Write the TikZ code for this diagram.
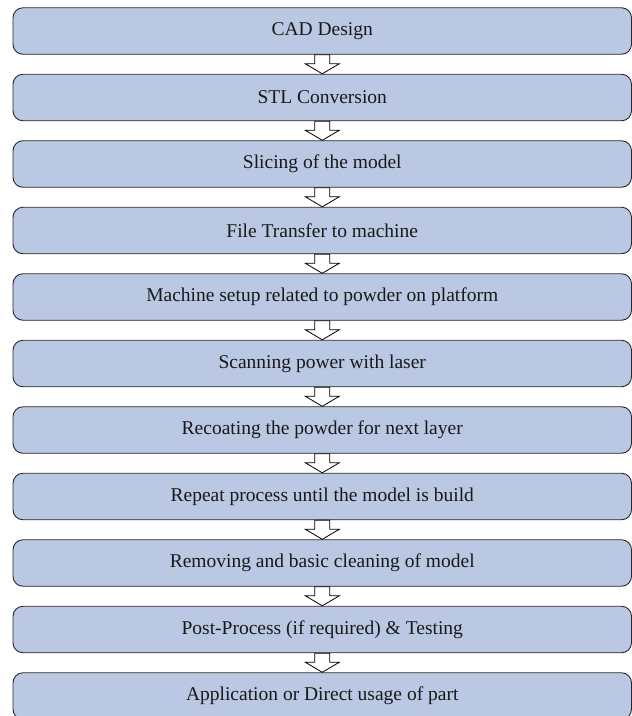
\documentclass[tikz,border=0pt]{standalone}
\usepackage{fontspec}
\setmainfont{Liberation Serif}
\definecolor{stepfill}{RGB}{186,200,228}
\definecolor{stepline}{RGB}{40,40,40}
\newcommand{\flowarrow}[2]{%
  \draw[flowarrow] ([xshift=-7.5pt]#1.south) -- ++(0,9) -- ++(-9.5,0) -- (#2.north)
    -- ++(17,-10) -- ++(-9.5,0) -- ([xshift=7.5pt]#1.south) -- cycle;}
\begin{document}
\begin{tikzpicture}[x=1pt,y=-1pt,
    stepbox/.style={draw=stepline, fill=stepfill, line width=0.9pt, rounded corners=10pt,
      minimum width=618.5pt, minimum height=46.5pt, inner sep=0pt, text=black!90,
      font=\fontsize{19.5}{22}\selectfont},
    flowarrow/.style={draw=black, fill=white, line width=0.8pt, line join=miter}]
  \useasboundingbox (0,0) rectangle (632,716);
  \node[stepbox] (cad) at (322.25,31) {CAD Design};
  \node[stepbox] (stl) at (322.25,97.5) {STL Conversion};
  \node[stepbox] (slice) at (322.25,164) {Slicing of the model};
  \node[stepbox] (transfer) at (322.25,230.5) {File Transfer to machine};
  \node[stepbox] (setup) at (322.25,297) {Machine setup related to powder on platform};
  \node[stepbox] (scan) at (322.25,363.5) {Scanning power with laser};
  \node[stepbox] (recoat) at (322.25,430) {Recoating the powder for next layer};
  \node[stepbox] (repeat) at (322.25,496.5) {Repeat process until the model is build};
  \node[stepbox] (remove) at (322.25,563) {Removing and basic cleaning of model};
  \node[stepbox] (post) at (322.25,629.5) {Post-Process (if required) \& Testing};
  \node[stepbox] (usage) at (322.25,696) {Application or Direct usage of part};
  % block arrows between the steps
  \flowarrow{cad}{stl}
  \flowarrow{stl}{slice}
  \flowarrow{slice}{transfer}
  \flowarrow{transfer}{setup}
  \flowarrow{setup}{scan}
  \flowarrow{scan}{recoat}
  \flowarrow{recoat}{repeat}
  \flowarrow{repeat}{remove}
  \flowarrow{remove}{post}
  \flowarrow{post}{usage}
\end{tikzpicture}
\end{document}
